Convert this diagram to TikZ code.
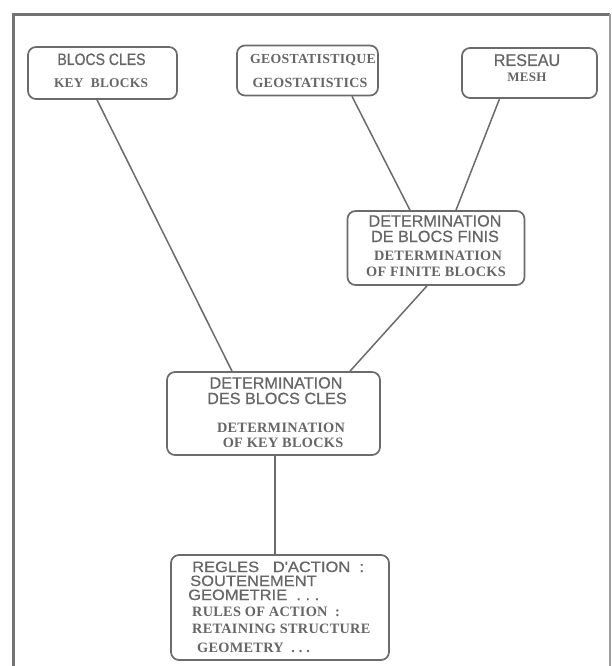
\documentclass[tikz,border=0pt]{standalone}
\usepackage{fontspec}
\setmainfont{Liberation Serif}
\newfontfamily\frsans[FakeBold=0.6]{Liberation Sans}
\newfontfamily\frsansn[FakeStretch=0.85,FakeBold=0.6]{Liberation Sans}
\newfontfamily\frsansm[FakeStretch=0.95,FakeBold=0.6]{Liberation Sans}
\newfontfamily\frsansw[FakeStretch=1.1,FakeBold=0.6]{Liberation Sans}
\newfontfamily\ensf[LetterSpace=2]{Liberation Serif}
\definecolor{txt}{gray}{0.40}
\definecolor{boxc}{gray}{0.42}
\definecolor{framec}{gray}{0.45}
\begin{document}
\begin{tikzpicture}[x=1pt,y=-1pt,
  box/.style={draw=boxc, line width=1.7pt, rounded corners=8pt, inner sep=0pt},
  tx/.style={inner sep=0pt, anchor=base, text=txt},
  txl/.style={inner sep=0pt, anchor=base west, text=txt},
  conn/.style={draw=boxc, line width=1.5pt},
  fr/.style={font=\frsans\fontsize{16.2}{17}\selectfont},
  frw/.style={font=\frsansw\fontsize{15}{16}\selectfont},
  en/.style={font=\ensf\bfseries\fontsize{14.3}{15}\selectfont}]
\useasboundingbox (0,0) rectangle (612,666);
\fill[white] (0,0) rectangle (612,666);
% frame
\draw[framec, line width=3.5pt] (13.5,666) -- (13.5,15);
\draw[framec, line width=3pt] (12,15) -- (610,15);
\draw[framec!70, line width=1.5pt] (610,14) -- (610,666);
% boxes
\node[box, minimum width=149pt, minimum height=52pt] (b1) at (102.5,73) {};
\node[box, minimum width=141pt, minimum height=50pt] (b2) at (307.5,70.5) {};
\node[box, minimum width=135pt, minimum height=50pt] (b3) at (529.5,73) {};
\node[box, minimum width=177pt, minimum height=74pt] (b4) at (436,248) {};
\node[box, minimum width=213pt, minimum height=83pt] (b5) at (273.5,413.5) {};
\node[box, minimum width=218pt, minimum height=105pt] (b6) at (280,607.5) {};
% texts box 1
\node[tx, font=\frsansn\fontsize{16.5}{18}\selectfont] (t1a) at (101.5,65) {BLOCS CLES};
\node[tx, font=\ensf\bfseries\fontsize{13.4}{15}\selectfont] (t1b) at (101,88) {KEY\ \ BLOCKS};
% box 2
\node[tx, font=\ensf\bfseries\fontsize{13.8}{15}\selectfont] (t2a) at (313,64) {GEOSTATISTIQUE};
\node[tx, font=\ensf\bfseries\fontsize{14}{15}\selectfont] (t2b) at (310,88) {GEOSTATISTICS};
% box 3
\node[tx, font=\frsansm\fontsize{17}{18}\selectfont] (t3a) at (527,66) {RESEAU};
\node[tx, font=\ensf\bfseries\fontsize{13}{15}\selectfont] (t3b) at (527,82) {MESH};
% box 4
\node[tx, fr] (t4a) at (435,226.5) {DETERMINATION};
\node[tx, fr] (t4b) at (435,242) {DE BLOCS FINIS};
\node[tx, en] (t4c) at (438,260) {DETERMINATION};
\node[tx, en] (t4d) at (436,276) {OF FINITE BLOCKS};
% box 5
\node[tx, fr] (t5a) at (276,388.5) {DETERMINATION};
\node[tx, fr] (t5b) at (277,404) {DES BLOCS CLES};
\node[tx, en] (t5c) at (281,432) {DETERMINATION};
\node[tx, en] (t5d) at (283,447) {OF KEY BLOCKS};
% box 6
\node[txl, frw] (t6a) at (192,572) {REGLES\ \ \ D'ACTION\ \ :};
\node[txl, frw] (t6b) at (190,586) {SOUTENEMENT};
\node[txl, frw] (t6c) at (188,600) {GEOMETRIE\ \ .\ .\ .};
\node[txl, font=\ensf\bfseries\fontsize{14.3}{16}\selectfont] (t6d) at (192,616) {RULES OF ACTION\ \ :};
\node[txl, font=\ensf\bfseries\fontsize{14.3}{16}\selectfont] (t6e) at (192,633) {RETAINING STRUCTURE};
\node[txl, font=\ensf\bfseries\fontsize{14.3}{16}\selectfont] (t6f) at (197,652) {GEOMETRY\ \ .\ .\ .};
% connectors
\draw[conn] ([xshift=-5.5pt]b1.south) -- ([xshift=-41.5pt]b5.north);
\draw[conn] ([xshift=44.5pt]b2.south) -- ([xshift=-26pt]b4.north);
\draw[conn] ([xshift=-30pt]b3.south) -- ([xshift=20pt]b4.north);
\draw[conn] ([xshift=-9pt]b4.south) -- ([xshift=76.5pt]b5.north);
\draw[conn] ([xshift=1.5pt]b5.south) -- ([xshift=-5pt]b6.north);
\end{tikzpicture}
\end{document}
